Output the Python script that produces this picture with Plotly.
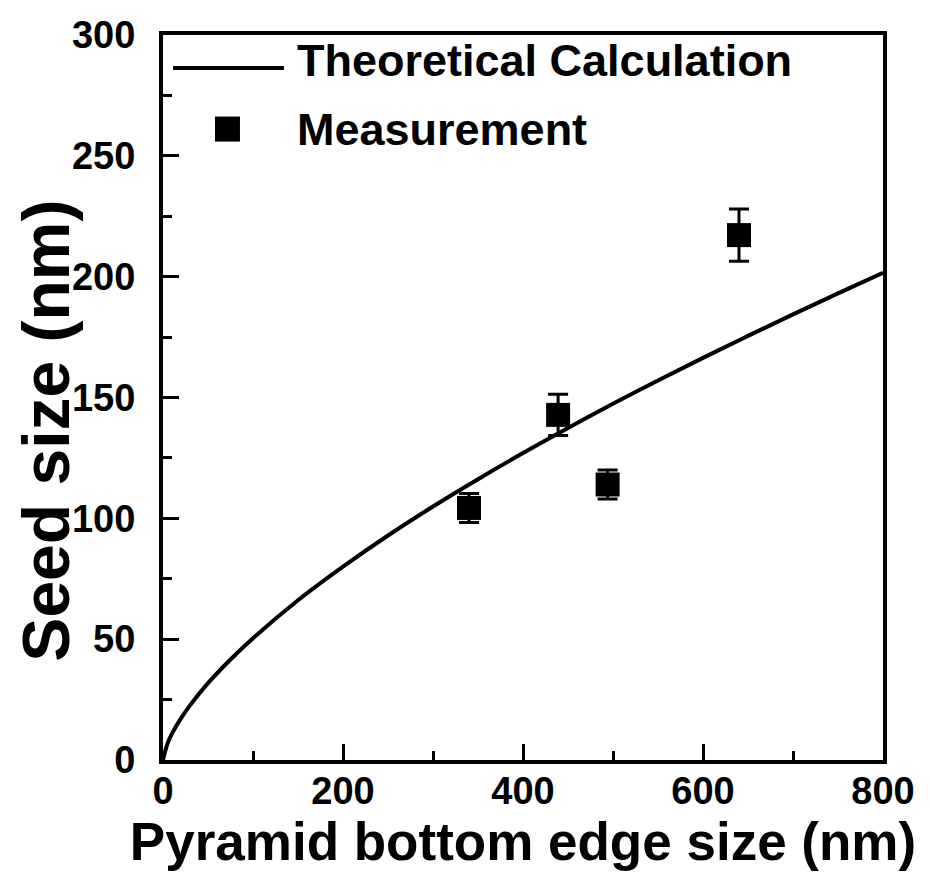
import plotly.graph_objects as go

# Theoretical curve
theory_x = [0, 5, 10, 20, 30, 50, 75, 100, 150, 200, 250, 300, 350, 400,
            450, 500, 550, 600, 650, 700, 750, 800]
theory_y = [0, 6.8, 10.9, 17.2, 22.6, 31.8, 41.6, 50.4, 66.1, 80.0, 92.9,
            104.9, 116.2, 127.0, 137.4, 147.4, 157.0, 166.4, 175.5, 184.4,
            193.1, 201.6]

# Measurements
meas_x = [340, 439, 494, 640]
meas_y = [104.3, 142.8, 114.0, 217.2]
meas_err = [6, 8.5, 6, 10.8]

x_ticks = [0, 200, 400, 600, 800]
y_ticks = [0, 50, 100, 150, 200, 250, 300]

FONT = "Liberation Sans, Arial, sans-serif"

fig = go.Figure()
fig.add_trace(go.Scatter(
    x=theory_x, y=theory_y, mode="lines", line=dict(color="black", width=4, shape="spline"),
    name="Theoretical Calculation", showlegend=False))
fig.add_trace(go.Scatter(
    x=meas_x, y=meas_y, mode="markers",
    marker=dict(symbol="square", size=24, color="black"),
    error_y=dict(type="data", array=meas_err, color="black", thickness=3, width=10),
    name="Measurement", showlegend=False))

# Legend drawn manually (paper coordinates)
fig.add_shape(type="line", xref="paper", yref="paper", x0=0.014, x1=0.168,
              y0=0.9545, y1=0.9545, line=dict(color="black", width=4))
fig.add_shape(type="rect", xref="paper", yref="paper", x0=0.0722, x1=0.1069,
              y0=0.853, y1=0.8875, fillcolor="black", line=dict(width=0))
fig.add_annotation(xref="paper", yref="paper", x=0.183, y=0.965, xanchor="left", yanchor="middle",
                   text="<b>Theoretical Calculation</b>", showarrow=False,
                   font=dict(family=FONT, size=45, color="black"))
fig.add_annotation(xref="paper", yref="paper", x=0.183, y=0.869, xanchor="left", yanchor="middle",
                   text="<b>Measurement</b>", showarrow=False,
                   font=dict(family=FONT, size=45, color="black"))

# Y axis title placed as annotation (offset downward as in the reference)
fig.add_annotation(xref="paper", yref="paper", x=-0.163, y=0.4538, xanchor="center", yanchor="middle",
                   text="<b>Seed size (nm)</b>", showarrow=False, textangle=-90,
                   font=dict(family=FONT, size=66, color="black"))

axis_common = dict(
    showline=True, linecolor="black", linewidth=4, mirror=True,
    ticks="inside", ticklen=16, tickwidth=3, tickcolor="black",
    showgrid=False, zeroline=False, automargin=False,
    tickfont=dict(family=FONT, size=38, color="black"),
)

fig.update_xaxes(
    range=[0, 800], tickvals=x_ticks, ticktext=[f"<b>{v}</b>" for v in x_ticks],
    minor=dict(dtick=100, ticks="inside", ticklen=9, tickwidth=3, tickcolor="black"),
    ticklabelstandoff=-6,
    title=dict(text="<b>Pyramid bottom edge size (nm)</b>",
               font=dict(family=FONT, size=53, color="black"), standoff=0),
    **axis_common)
fig.update_yaxes(
    range=[0, 300], tickvals=y_ticks, ticktext=[f"<b>{v}</b>" for v in y_ticks],
    minor=dict(dtick=25, ticks="inside", ticklen=9, tickwidth=3, tickcolor="black"),
    ticklabelstandoff=16,
    **axis_common)

# page body adds an 8px offset; compensate so the plot area lands where the reference has it
fig.update_layout(
    width=922, height=875,
    margin=dict(l=155, r=47, t=27, b=123),
    paper_bgcolor="white", plot_bgcolor="white",
    showlegend=False,
)

fig.write_html("out.html")
